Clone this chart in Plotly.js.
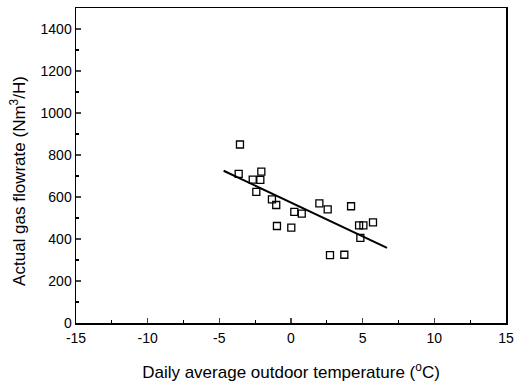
<!DOCTYPE html>
<html><head><meta charset="utf-8">
<script src="https://cdn.plot.ly/plotly-3.0.1.min.js"></script>
<style>body{margin:0;background:#fff}#c{width:515px;height:384px}</style>
</head><body><div id="c"></div>
<script>
const tempX = [-3.56,-3.65,-2.07,-2.67,-2.14,-2.42,-1.33,-1.03,-0.98,0.02,0.23,0.75,1.98,2.56,4.19,4.75,5.05,5.72,4.84,2.72,3.72];
const flowY = [850,710,721,683,682,624,589,562,462,454,529,521,570,541,556,465,465,479,405,323,325];
const fitX = [-4.7, 6.7];
const fitY = [725, 358];
const xTicks = [-15,-10,-5,0,5,10,15];
const yTicks = [0,200,400,600,800,1000,1200,1400];
const xTitle = 'Daily average outdoor temperature (<sup>o</sup>C)';
const yTitle = 'Actual gas flowrate (Nm<sup>3</sup>/H)';

const font = {family:'Liberation Sans, Arial, sans-serif', color:'#000'};
Plotly.newPlot('c', [
 {x: tempX, y: flowY, mode:'markers', type:'scatter',
  marker:{symbol:'square-open', size:7, color:'#000', line:{width:1.3, color:'#000'}}},
 {x: fitX, y: fitY, mode:'lines', type:'scatter', line:{color:'#000', width:2}}
], {
 width:515, height:384, showlegend:false,
 margin:{l:76, r:9, t:8, b:61},
 paper_bgcolor:'#fff', plot_bgcolor:'#fff',
 font: Object.assign({size:14}, font),
 xaxis:{range:[-15,15], tickvals:xTicks, ticktext:xTicks.map(String), ticks:'inside', ticklen:5, tickwidth:1.2,
   minor:{dtick:2.5, ticks:'inside', ticklen:3, tickcolor:'#000'},
   showline:true, linewidth:1.5, linecolor:'#000', mirror:true, showgrid:false, zeroline:false,
   tickfont:Object.assign({size:14}, font), ticklabelstandoff:2,
   title:{text:xTitle, font:Object.assign({size:17}, font), standoff:21}},
 yaxis:{range:[0,1500], tickvals:yTicks, ticktext:yTicks.map(String), ticks:'inside', ticklen:5, tickwidth:1.2,
   minor:{dtick:100, ticks:'inside', ticklen:3, tickcolor:'#000'},
   showline:true, linewidth:1.5, linecolor:'#000', mirror:true, showgrid:false, zeroline:false,
   tickfont:Object.assign({size:14}, font)},
 annotations:[{text:yTitle, xref:'paper', yref:'paper', x:-0.135, y:0.451, xanchor:'center', yanchor:'middle',
   textangle:-90, showarrow:false, font:Object.assign({size:17}, font)}]
}, {displayModeBar:false, staticPlot:true});
</script></body></html>
